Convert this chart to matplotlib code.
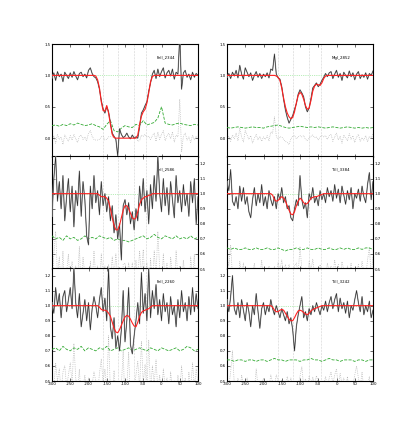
"""Velocity stack of absorption lines: flux, fitted profile, error and residuals."""
import numpy as np
import matplotlib
matplotlib.use("Agg")
import matplotlib.pyplot as plt

plt.rcParams['font.family'] = ['DejaVu Sans']
plt.rcParams['axes.unicode_minus'] = False

# ---------- Data ----------
VEL = list(range(-300, 105, 5))          # km/s, flux / fit grid
VEL_ERR = list(range(-300, 110, 10))     # km/s, error grid
COMPONENTS = [-160, -118, -76, -42]      # fitted component velocities

LABELS = ["FeII_2344", "MgI_2852", "FeII_2586", "TiII_3384", "FeII_2260", "TiII_3242"]

fit_feii_2344 = ([1.0] * 23 +
                 [1.0, 0.99, 0.93, 0.80, 0.58, 0.44, 0.43, 0.52, 0.40, 0.22, 0.06, 0.01] +
                 [0.0] * 12 +
                 [0.05, 0.22, 0.35, 0.42, 0.46, 0.56, 0.72, 0.90, 0.98] +
                 [1.0] * 25)
flux_feii_2344 = [0.96, 1.04, 0.92, 1.06, 0.98, 1.02, 0.90, 1.05, 1.00, 0.95, 1.04, 0.97,
                  1.06, 0.99, 0.93, 1.03, 1.05, 0.98, 1.02, 0.96, 1.08, 1.12, 1.03,
                  0.98, 0.96, 0.90, 0.78, 0.60, 0.47, 0.40, 0.50, 0.42, 0.25, 0.08, 0.03,
                  -0.02, -0.28, 0.15, 0.06, 0.01, 0.03, 0.08, 0.02, -0.01, 0.05, 0.00, 0.02,
                  0.00, 0.18, 0.40, 0.45, 0.52, 0.58, 0.75, 0.88, 1.02,
                  1.08, 0.95, 1.10, 0.98, 1.06, 1.12, 0.96, 1.04, 1.08, 0.99, 1.10, 0.94,
                  1.05, 1.02, 1.62, 0.78, 1.04, 1.08, 0.97, 1.02, 0.93, 1.05, 0.97, 1.03, 1.00]
err_feii_2344 = [0.20, 0.21, 0.19, 0.22, 0.20, 0.23, 0.21, 0.24, 0.22, 0.20, 0.21, 0.23,
                 0.20, 0.18, 0.14, 0.22, 0.28, 0.12, 0.10, 0.16, 0.20, 0.18, 0.17, 0.22,
                 0.20, 0.28, 0.21, 0.23, 0.25, 0.32, 0.50, 0.24, 0.22, 0.21, 0.23, 0.24,
                 0.22, 0.21, 0.20, 0.22, 0.21]

fit_mgi_2852 = ([1.0] * 27 +
                [0.99, 0.97, 0.92, 0.80, 0.64, 0.50, 0.40, 0.34, 0.31, 0.33, 0.42, 0.56,
                 0.68, 0.73, 0.70, 0.62, 0.52, 0.46, 0.48, 0.60, 0.75, 0.83, 0.86, 0.85,
                 0.84, 0.88, 0.95, 0.99] +
                [1.0] * 26)
flux_mgi_2852 = [0.97, 1.03, 0.95, 1.05, 0.99, 1.08, 0.96, 1.16, 1.02, 0.94, 1.12, 1.05,
                 0.98, 1.04, 0.92, 1.00, 1.06, 0.97, 1.03, 0.95, 1.02, 0.98, 1.04, 0.96,
                 1.10, 1.08, 1.34,
                 1.02, 0.96, 0.94, 0.82, 0.62, 0.45, 0.33, 0.24, 0.30, 0.36, 0.46, 0.55,
                 0.70, 0.77, 0.72, 0.66, 0.50, 0.42, 0.48, 0.63, 0.80, 0.84, 0.88, 0.82,
                 0.86, 0.92, 0.97, 1.03,
                 0.98, 1.04, 1.06, 0.95, 1.02, 1.08, 0.97, 1.03, 0.92, 1.05, 1.00, 0.96,
                 1.07, 0.98, 1.04, 0.93, 1.02, 1.06, 0.95, 1.01, 0.97, 1.04, 0.94, 1.03,
                 1.00, 1.07]
err_mgi_2852 = [0.17, 0.16, 0.17, 0.18, 0.17, 0.16, 0.17, 0.18, 0.17, 0.17, 0.16, 0.18,
                0.19, 0.20, 0.21, 0.19, 0.17, 0.16, 0.17, 0.18, 0.19, 0.18, 0.17, 0.18,
                0.17, 0.18, 0.17, 0.16, 0.17, 0.18, 0.17, 0.16, 0.17, 0.18, 0.17, 0.16,
                0.17, 0.16, 0.17, 0.16, 0.17]

fit_feii_2586 = ([1.0] * 26 +
                 [0.99, 0.98, 0.98, 0.98, 0.97, 0.95, 0.90, 0.84, 0.79, 0.76, 0.76, 0.79,
                  0.84, 0.89, 0.92, 0.92, 0.90, 0.87, 0.84, 0.83, 0.84, 0.88, 0.93, 0.96,
                  0.97, 0.98, 0.98, 0.99, 0.99, 1.0] +
                 [1.0] * 25)
flux_feii_2586 = [0.85, 1.10, 1.25, 0.95, 1.08, 0.90, 1.12, 0.82, 0.98, 1.10, 0.88, 1.05,
                  0.78, 1.02, 0.92, 1.15, 0.85, 1.08, 0.96, 0.72, 0.66, 1.05, 0.90, 1.12,
                  0.94, 1.02, 0.86, 1.08, 0.92, 1.00, 0.88, 0.98, 0.82, 0.92, 0.74, 0.86,
                  0.70, 0.80, 0.56, 0.92, 0.96, 0.86, 0.94, 0.80, 0.88, 0.76, 0.90, 0.82,
                  1.05, 0.92, 1.10, 0.88, 1.02, 0.80, 1.06, 0.90, 1.12, 0.95, 1.25, 1.00,
                  0.88, 1.10, 0.92, 1.04, 0.86, 1.08, 0.96, 0.84, 1.12, 0.94, 1.02, 0.88,
                  1.06, 0.92, 1.00, 0.85, 1.08, 0.94, 1.10, 0.80, 0.98]
err_feii_2586 = [0.72, 0.70, 0.71, 0.69, 0.72, 0.70, 0.71, 0.69, 0.70, 0.72, 0.70, 0.71,
                 0.70, 0.72, 0.71, 0.70, 0.71, 0.69, 0.70, 0.69, 0.69, 0.68, 0.69, 0.70,
                 0.71, 0.72, 0.70, 0.71, 0.73, 0.71, 0.70, 0.72, 0.71, 0.70, 0.72, 0.70,
                 0.71, 0.70, 0.72, 0.70, 0.71]

fit_tiii_3384 = ([1.0] * 25 +
                 [0.99, 0.96, 0.95, 0.955, 0.97, 0.98, 0.97, 0.95, 0.92, 0.89, 0.865, 0.86,
                  0.88, 0.92, 0.95, 0.97, 0.96, 0.94, 0.93, 0.935, 0.95, 0.97, 0.975, 0.98,
                  0.98, 0.985, 0.99, 0.995] +
                 [1.0] * 28)
flux_tiii_3384 = [1.08, 1.02, 1.16, 0.95, 0.92, 0.98, 0.90, 1.05, 0.95, 1.04, 0.93, 0.98,
                  0.88, 0.84, 0.96, 1.04, 0.92, 1.00, 0.94, 1.06, 0.92, 0.98, 0.90, 1.02,
                  0.96, 0.92, 0.98, 0.90, 1.00, 0.96, 1.04, 0.94, 0.98, 0.90, 0.92, 0.84,
                  0.82, 0.90, 0.96, 0.92, 1.12, 0.96, 0.90, 0.94, 0.84, 1.00, 0.96, 1.04,
                  0.94, 0.98, 0.92, 1.02, 0.96, 1.00, 0.94, 1.04, 0.98, 1.02, 0.95, 1.06,
                  0.97, 1.03, 0.94, 1.05, 0.99, 0.93, 1.02, 0.96, 1.04, 0.90, 1.00, 0.97,
                  1.03, 0.95, 1.05, 0.98, 0.94, 1.06, 1.14, 0.96, 1.08]
err_tiii_3384 = [0.64, 0.63, 0.64, 0.63, 0.63, 0.64, 0.63, 0.63, 0.64, 0.63, 0.63, 0.64,
                 0.63, 0.63, 0.64, 0.63, 0.62, 0.63, 0.63, 0.64, 0.63, 0.63, 0.64, 0.63,
                 0.63, 0.64, 0.63, 0.63, 0.64, 0.63, 0.63, 0.64, 0.63, 0.64, 0.63, 0.63,
                 0.64, 0.63, 0.64, 0.64, 0.63]

fit_feii_2260 = ([1.0] * 26 +
                 [0.99, 0.975, 0.97, 0.97, 0.965, 0.95, 0.93, 0.89, 0.85, 0.825, 0.82, 0.84,
                  0.87, 0.90, 0.925, 0.935, 0.93, 0.91, 0.885, 0.865, 0.86, 0.89, 0.93,
                  0.955, 0.965, 0.97, 0.975, 0.98, 0.99, 1.0] +
                 [1.0] * 25)
flux_feii_2260 = [1.02, 0.95, 1.12, 1.00, 1.08, 0.92, 1.06, 1.10, 0.96, 1.04, 1.12, 0.98,
                  1.25, 1.02, 0.92, 1.08, 0.86, 0.95, 1.04, 0.90, 1.02, 0.84, 0.98, 1.06,
                  1.00, 0.92, 1.04, 1.12, 0.96, 1.05, 0.90, 1.25, 0.86, 0.78, 0.92, 0.72,
                  0.80, 0.70, 0.84, 1.10, 0.76, 0.90, 1.12, 0.74, 0.68, 0.80, 0.90, 1.02,
                  0.88, 1.22, 0.95, 1.08, 0.90, 1.25, 0.92, 1.10, 0.98, 1.14, 0.94, 1.04,
                  0.90, 1.08, 0.96, 1.02, 0.88, 1.06, 0.94, 1.00, 0.86, 1.04, 0.92, 1.10,
                  0.96, 1.02, 0.90, 1.06, 0.94, 1.12, 0.96, 1.08, 0.98]
err_feii_2260 = [0.71, 0.72, 0.70, 0.73, 0.71, 0.70, 0.72, 0.71, 0.73, 0.70, 0.72, 0.71,
                 0.70, 0.72, 0.71, 0.73, 0.70, 0.71, 0.72, 0.70, 0.71, 0.72, 0.70, 0.71,
                 0.72, 0.71, 0.70, 0.72, 0.71, 0.70, 0.72, 0.71, 0.70, 0.71, 0.72, 0.70,
                 0.71, 0.73, 0.72, 0.70, 0.71]

fit_tiii_3242 = ([1.0] * 25 +
                 [0.99, 0.97, 0.96, 0.96, 0.97, 0.975, 0.97, 0.95, 0.93, 0.91, 0.90, 0.90,
                  0.92, 0.945, 0.965, 0.97, 0.965, 0.955, 0.945, 0.94, 0.95, 0.965, 0.975,
                  0.98, 0.985, 0.99, 0.995, 1.0] +
                 [1.0] * 28)
flux_tiii_3242 = [1.04, 0.96, 1.06, 1.20, 0.98, 0.94, 1.02, 0.92, 1.04, 0.97, 0.90, 1.02,
                  0.96, 0.86, 1.00, 0.94, 1.08, 0.96, 0.85, 0.98, 1.02, 0.94, 1.00, 0.96,
                  1.04, 0.98, 0.94, 1.00, 0.96, 0.92, 0.98, 0.94, 0.90, 0.96, 0.88, 0.92,
                  0.84, 0.70, 0.86, 0.94, 1.00, 1.06, 0.92, 0.96, 0.90, 0.98, 0.94, 1.00,
                  0.96, 1.02, 0.98, 0.94, 1.00, 0.97, 1.03, 0.96, 1.02, 1.06, 0.98, 1.04,
                  1.08, 0.96, 1.05, 0.98, 1.02, 0.95, 1.03, 0.92, 1.00, 0.97, 1.04, 1.10,
                  1.02, 0.96, 1.06, 0.94, 1.00, 0.96, 1.03, 0.92, 0.97]
err_tiii_3242 = [0.64, 0.64, 0.63, 0.64, 0.64, 0.63, 0.64, 0.64, 0.63, 0.64, 0.64, 0.63,
                 0.64, 0.65, 0.64, 0.64, 0.63, 0.64, 0.64, 0.64, 0.63, 0.64, 0.64, 0.65,
                 0.64, 0.64, 0.63, 0.64, 0.65, 0.64, 0.64, 0.63, 0.64, 0.64, 0.64, 0.63,
                 0.64, 0.64, 0.63, 0.64, 0.64]

FLUX = [flux_feii_2344, flux_mgi_2852, flux_feii_2586, flux_tiii_3384, flux_feii_2260, flux_tiii_3242]
FIT = [fit_feii_2344, fit_mgi_2852, fit_feii_2586, fit_tiii_3384, fit_feii_2260, fit_tiii_3242]
ERR = [err_feii_2344, err_mgi_2852, err_feii_2586, err_tiii_3384, err_feii_2260, err_tiii_3242]
RESID_OFFSET = [0.0, 0.0, 0.5, 0.5, 0.5, 0.5]

# ---------- Layout ----------
FIG_W, FIG_H = 4.15, 4.36
LEFT = [52 / 415, 227 / 415]
AX_W = 146 / 415
TOPS = [44 / 436, 156 / 436, 268 / 436]
AX_H = 113 / 436
FS = 2.8

fig = plt.figure(figsize=(FIG_W, FIG_H), dpi=100)

for i in range(6):
    row, col = divmod(i, 2)
    rect = [LEFT[col], 1 - TOPS[row] - AX_H, AX_W, AX_H]
    ax = fig.add_axes(rect)

    v = np.array(VEL)
    flux = np.array(FLUX[i])
    fit = np.array(FIT[i])
    resid = flux - fit + RESID_OFFSET[i]

    for vc in COMPONENTS:
        ax.axvline(vc, color='#aaaaaa', lw=0.4, ls=':', zorder=1)
    ax.axhline(1.0, color='#77dd77', lw=0.5, ls=':', zorder=1)

    ax.plot(v, resid, color='#aaaaaa', lw=0.5, ls=':', zorder=2)
    ax.plot(VEL_ERR, ERR[i], color='#33aa33', lw=0.6, ls='--', zorder=3)
    ax.plot(v, flux, color='#aaaaaa', lw=0.9, zorder=4)
    ax.plot(v, flux, color='#222222', lw=0.4, zorder=5)
    ax.plot(v, fit, color='#ff2020', lw=0.8, zorder=6)

    ax.set_xlim(-300, 100)
    ax.set_xticks(np.arange(-300, 101, 50))
    if row == 0:
        ax.set_ylim(-0.3, 1.5)
        ax.set_yticks([0.0, 0.5, 1.0, 1.5])
    else:
        ax.set_ylim(0.5, 1.25)
        ax.set_yticks(np.round(np.arange(0.5, 1.21, 0.1), 1))
    ax.yaxis.set_major_formatter(matplotlib.ticker.FormatStrFormatter('%.1f'))

    ax.tick_params(direction='in', length=2, width=0.4, labelsize=FS, pad=1,
                   top=True, right=True, bottom=True, left=True)
    if row == 1:
        ax.tick_params(labelleft=False, labelright=True)
    if row < 2:
        ax.tick_params(labelbottom=False)
    for sp in ax.spines.values():
        sp.set_linewidth(0.8)

    ax.text(0.72, 0.87, LABELS[i], transform=ax.transAxes, fontsize=FS, color='black')

fig.savefig("out.png", dpi=100)
